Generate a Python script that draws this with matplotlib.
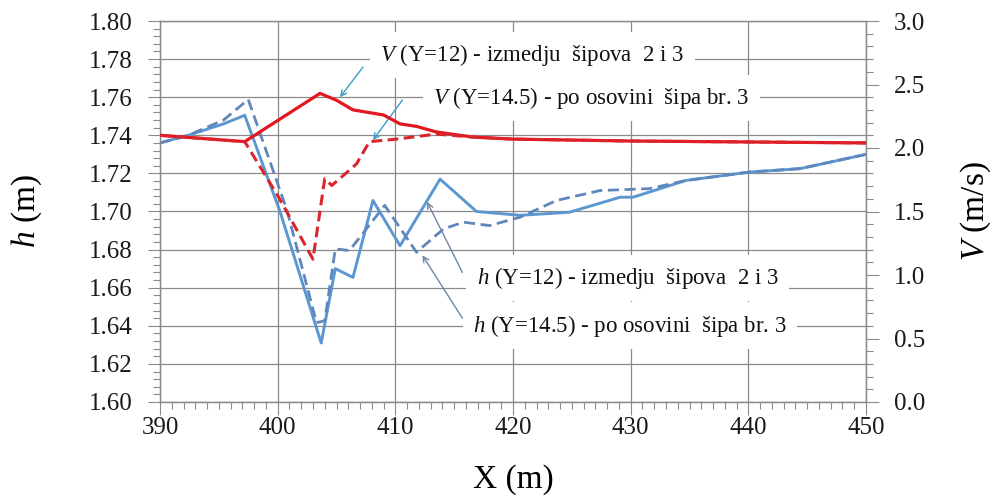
import matplotlib
matplotlib.use("Agg")
import matplotlib.pyplot as plt
from matplotlib.ticker import MultipleLocator, FormatStrFormatter

# ---- data ----
h12_x = [390, 392.4, 395.4, 397.2, 400.2, 403.7, 404.9, 406.4, 408.1, 410.4, 413.8, 416.9, 420.6, 424.8, 429.1, 430.2, 434.7, 440.1, 444.4, 450]
h12 = [1.736, 1.740, 1.746, 1.7505, 1.700, 1.631, 1.670, 1.6654, 1.7058, 1.682, 1.717, 1.700, 1.698, 1.6996, 1.7075, 1.7075, 1.7163, 1.7207, 1.7225, 1.730]

h145_x = [390, 392.4, 395.4, 397.5, 400.8, 403.3, 404.0, 404.9, 406.1, 409.1, 411.8, 414.1, 415.8, 418.0, 420.6, 423.7, 427.4, 431.6, 434.7, 440.1, 444.4, 450]
h145 = [1.736, 1.740, 1.748, 1.7588, 1.7005, 1.6417, 1.6426, 1.6804, 1.6795, 1.7032, 1.6786, 1.6909, 1.6944, 1.6926, 1.697, 1.7058, 1.711, 1.712, 1.7163, 1.7207, 1.7225, 1.730]

V12_x = [390, 397.2, 403.6, 405.0, 406.4, 409.0, 410.4, 411.8, 413.5, 416.6, 420, 430, 450]
V12 = [2.10, 2.05, 2.43, 2.376, 2.30, 2.26, 2.19, 2.17, 2.126, 2.086, 2.07, 2.055, 2.04]

V145_x = [390, 397.2, 400.1, 403.0, 404.0, 404.6, 405.6, 406.7, 407.8, 410.1, 413.5, 416.6, 420, 430, 450]
V145 = [2.10, 2.05, 1.61, 1.125, 1.758, 1.705, 1.785, 1.875, 2.05, 2.07, 2.11, 2.086, 2.07, 2.055, 2.04]

x_ticks = [390, 400, 410, 420, 430, 440, 450]

lbl_V12 = r"$\it{V}$ (Y=12) - izmedju  šipova  2 i 3"
lbl_V145 = r"$\it{V}$ (Y=14.5) - po osovini  šipa br. 3"
lbl_h12 = r"$\it{h}$ (Y=12) - izmedju  šipova  2 i 3"
lbl_h145 = r"$\it{h}$ (Y=14.5) - po osovini  šipa br. 3"

plt.rcParams['font.family'] = ['Liberation Serif', 'DejaVu Serif']
plt.rcParams['mathtext.fontset'] = 'custom'
plt.rcParams['mathtext.it'] = 'Liberation Serif:italic'
plt.rcParams['mathtext.rm'] = 'Liberation Serif'

fig = plt.figure(figsize=(9.92, 4.99), dpi=100)
ax = fig.add_axes([160/992, 97/499, 706/992, 381/499])
ax2 = ax.twinx()

blue = '#5B97D0'
blue_d = '#5F87BC'
red = '#E3171E'
red_d = '#D9252E'
grid_c = '#8a8a8a'

ax.plot(h12_x, h12, color=blue, lw=2.1, zorder=3)
ax.plot(h145_x, h145, color=blue_d, lw=2.0, dashes=(4, 2), zorder=3)
ax2.plot(V12_x, V12, color=red, lw=2.3, zorder=3)
ax2.plot(V145_x, V145, color=red_d, lw=2.2, dashes=(3.5, 1.8), zorder=3)

ax.set_xlim(390, 450)
ax.set_ylim(1.60, 1.80)
ax2.set_ylim(0, 3.0)
ax.set_xticks(x_ticks)
ax.xaxis.set_minor_locator(MultipleLocator(1))
ax.yaxis.set_major_locator(MultipleLocator(0.02))
ax.yaxis.set_minor_locator(MultipleLocator(0.004))
ax.yaxis.set_major_formatter(FormatStrFormatter('%.2f'))
ax2.yaxis.set_major_locator(MultipleLocator(0.5))
ax2.yaxis.set_minor_locator(MultipleLocator(0.1))
ax2.yaxis.set_major_formatter(FormatStrFormatter('%.1f'))

ax.grid(True, which='major', color=grid_c, lw=0.9)
ax.set_axisbelow(True)
for a in (ax, ax2):
    for s in a.spines.values():
        s.set_color(grid_c)
        s.set_linewidth(0.9)

ax.tick_params(axis='both', which='major', length=9, width=0.8, color=grid_c, labelsize=18, labelcolor='#1a1a1a')
ax.tick_params(axis='both', which='minor', length=5, width=0.8, color=grid_c)
ax.tick_params(axis='y', which='major', pad=11)
ax.tick_params(axis='x', which='major', pad=2)
ax2.tick_params(axis='y', which='major', length=9, width=0.8, color=grid_c, labelsize=18, labelcolor='#1a1a1a', pad=11)
ax2.tick_params(axis='y', which='minor', length=5, width=0.8, color=grid_c)

ax.set_xlabel("X (m)", fontsize=24, labelpad=18)
ax.set_ylabel(r"$\it{h}$ (m)", fontsize=24, labelpad=32)
ax2.set_ylabel(r"$\it{V}$ (m/s)", fontsize=24, labelpad=24)

bbox = dict(boxstyle='square,pad=0.45', fc='white', ec='none')
v_arrow = dict(arrowstyle='->', color='#3E9CC4', lw=1.0, shrinkA=0, shrinkB=0)
h_arrow = dict(arrowstyle='->', color='#6F87A8', lw=1.0, shrinkA=0, shrinkB=0)

ax.annotate('', xy=(405.3, 1.760), xytext=(407.25, 1.7758), arrowprops=v_arrow, zorder=5)
ax.annotate('', xy=(408.1, 1.7375), xytext=(410.6, 1.7585), arrowprops=v_arrow, zorder=5)
ax.annotate('', xy=(412.7, 1.705), xytext=(415.7, 1.668), arrowprops=h_arrow, zorder=5)
ax.annotate('', xy=(412.3, 1.677), xytext=(415.7, 1.644), arrowprops=h_arrow, zorder=5)

ax.text(408.7, 1.7822, lbl_V12, fontsize=16.5, va='center', ha='left', bbox=bbox, zorder=4, color='#111111')
ax.text(413.2, 1.7596, lbl_V145, fontsize=16.5, va='center', ha='left', bbox=bbox, zorder=4, color='#111111')
ax.text(416.9, 1.665, lbl_h12, fontsize=16.5, va='center', ha='left', bbox=bbox, zorder=4, color='#111111')
ax.text(416.6, 1.640, lbl_h145, fontsize=16.5, va='center', ha='left', bbox=bbox, zorder=4, color='#111111')

fig.savefig("out.png", dpi=100)
